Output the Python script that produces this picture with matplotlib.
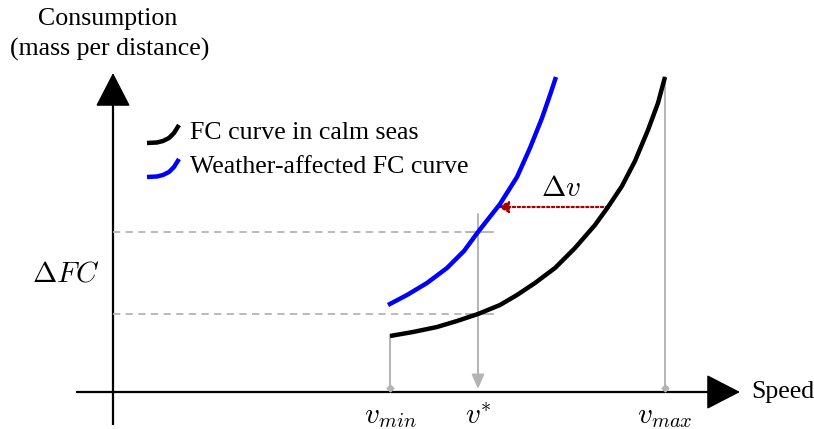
import matplotlib
matplotlib.use("Agg")
import matplotlib.pyplot as plt
from matplotlib.patches import FancyArrowPatch

plt.rcParams["mathtext.fontset"] = "cm"
plt.rcParams["font.family"] = ["Liberation Serif", "DejaVu Serif"]

# Fuel-consumption curves (speed, consumption) in diagram units
calm_speed = [277, 300, 324, 344, 365, 387, 404, 422, 442, 462, 482, 495, 509, 522, 535, 545, 552]
calm_fc = [56, 60, 65, 71, 78, 87, 97, 109, 124, 144, 167, 185, 206, 231, 262, 289, 315]
weather_speed = [275, 294, 314, 334, 351, 365, 387, 404, 417, 429, 437, 443]
weather_fc = [87, 97, 109, 124, 141, 160, 188, 215, 244, 274, 297, 315]

# Reference speeds and consumption levels
v_min, v_star, v_max = 277, 365, 552
fc_calm_at_vstar, fc_weather_at_vstar = 78, 160
fc_at_vmin, fc_at_vmax = 56, 315
dv_level, dv_from, dv_to = 185, 495, 385

speed_labels = [r"$v_{min}$", r"$v^{*}$", r"$v_{max}$"]
legend_labels = ["FC curve in calm seas", "Weather-affected FC curve"]

fig = plt.figure(figsize=(8.14, 4.29), dpi=100)
ax = fig.add_axes([0, 0, 1, 1])
ax.set_xlim(-113, 701)
ax.set_ylim(-37, 392)
ax.axis("off")

GREY = "#b4b4b4"
TEXT_SIZE = 18.6
MATH_SIZE = 21

# Axes with arrow heads
ax.plot([-37, 605], [0, 0], color="black", lw=1.6, solid_capstyle="butt")
ax.plot([0, 0], [-33, 295], color="black", lw=1.6, solid_capstyle="butt")
ax.add_patch(FancyArrowPatch((595, 0), (627, 0), arrowstyle="-|>,head_length=1.55,head_width=0.8",
                             mutation_scale=14, color="black", lw=1.2, shrinkA=0, shrinkB=0))
ax.add_patch(FancyArrowPatch((0, 285), (0, 319), arrowstyle="-|>,head_length=1.55,head_width=0.8",
                             mutation_scale=14, color="black", lw=1.2, shrinkA=0, shrinkB=0))

# Horizontal guides at the two consumption levels
for lvl in (fc_calm_at_vstar, fc_weather_at_vstar):
    ax.plot([0, v_star], [lvl, lvl], color=GREY, lw=1.3, ls=(0, (4, 3)))
    ax.plot([v_star - 12, v_star + 15], [lvl, lvl], color=GREY, lw=1.3)

# Vertical drop lines to the speed axis
ax.plot([v_min, v_min], [fc_at_vmin, 5], color=GREY, lw=1.4)
ax.plot([v_min], [4], marker="D", ms=3.5, color=GREY)
ax.plot([v_max, v_max], [fc_at_vmax, 5], color=GREY, lw=1.4)
ax.plot([v_max], [4], marker="D", ms=3.5, color=GREY)
ax.add_patch(FancyArrowPatch((v_star, fc_weather_at_vstar + 18), (v_star, 3),
                             arrowstyle="-|>,head_length=0.62,head_width=0.27", mutation_scale=14,
                             color=GREY, lw=1.4, shrinkA=0, shrinkB=0))

# FC curves
ax.plot(calm_speed, calm_fc, color="black", lw=3.2, solid_capstyle="butt", solid_joinstyle="round")
ax.plot(weather_speed, weather_fc, color="#0000ff", lw=3.2, solid_capstyle="butt",
        solid_joinstyle="round")

# Speed loss arrow
ax.add_patch(FancyArrowPatch((dv_from, dv_level), (dv_to, dv_level),
                             arrowstyle="-|>,head_length=0.45,head_width=0.25", mutation_scale=14,
                             color="#a80000", lw=1.6, ls=(0, (1, 1.2)), shrinkA=0, shrinkB=0))
ax.text((dv_from + dv_to) / 2 + 8, dv_level + 5, r"$\Delta v$", fontsize=MATH_SIZE,
        ha="center", va="bottom")

# Speed tick labels
for v, lab in zip([v_min, v_star, v_max], speed_labels):
    ax.text(v, -12, lab, fontsize=MATH_SIZE, ha="center", va="top")

ax.text(-47, 117, r"$\Delta FC$", fontsize=MATH_SIZE, ha="center", va="center")

# Axis titles
ax.text(-5, 373, "Consumption", fontsize=TEXT_SIZE, ha="center", va="center")
ax.text(-3, 343, "(mass per distance)", fontsize=TEXT_SIZE, ha="center", va="center")
ax.text(638, 0, "Speed", fontsize=TEXT_SIZE, ha="left", va="center")

# Legend keys drawn as short curved strokes
key_x = [34, 44, 50, 56, 61, 66]
key_y = [0, 0.5, 2, 5, 10, 18]
for (dy, col, lab) in [(249, "black", legend_labels[0]), (215, "#0000ff", legend_labels[1])]:
    ax.plot(key_x, [dy + k for k in key_y], color=col, lw=3.2, solid_capstyle="butt")
    ax.text(77, dy + 10, lab, fontsize=TEXT_SIZE, ha="left", va="center")

fig.savefig("out.png", dpi=100)
